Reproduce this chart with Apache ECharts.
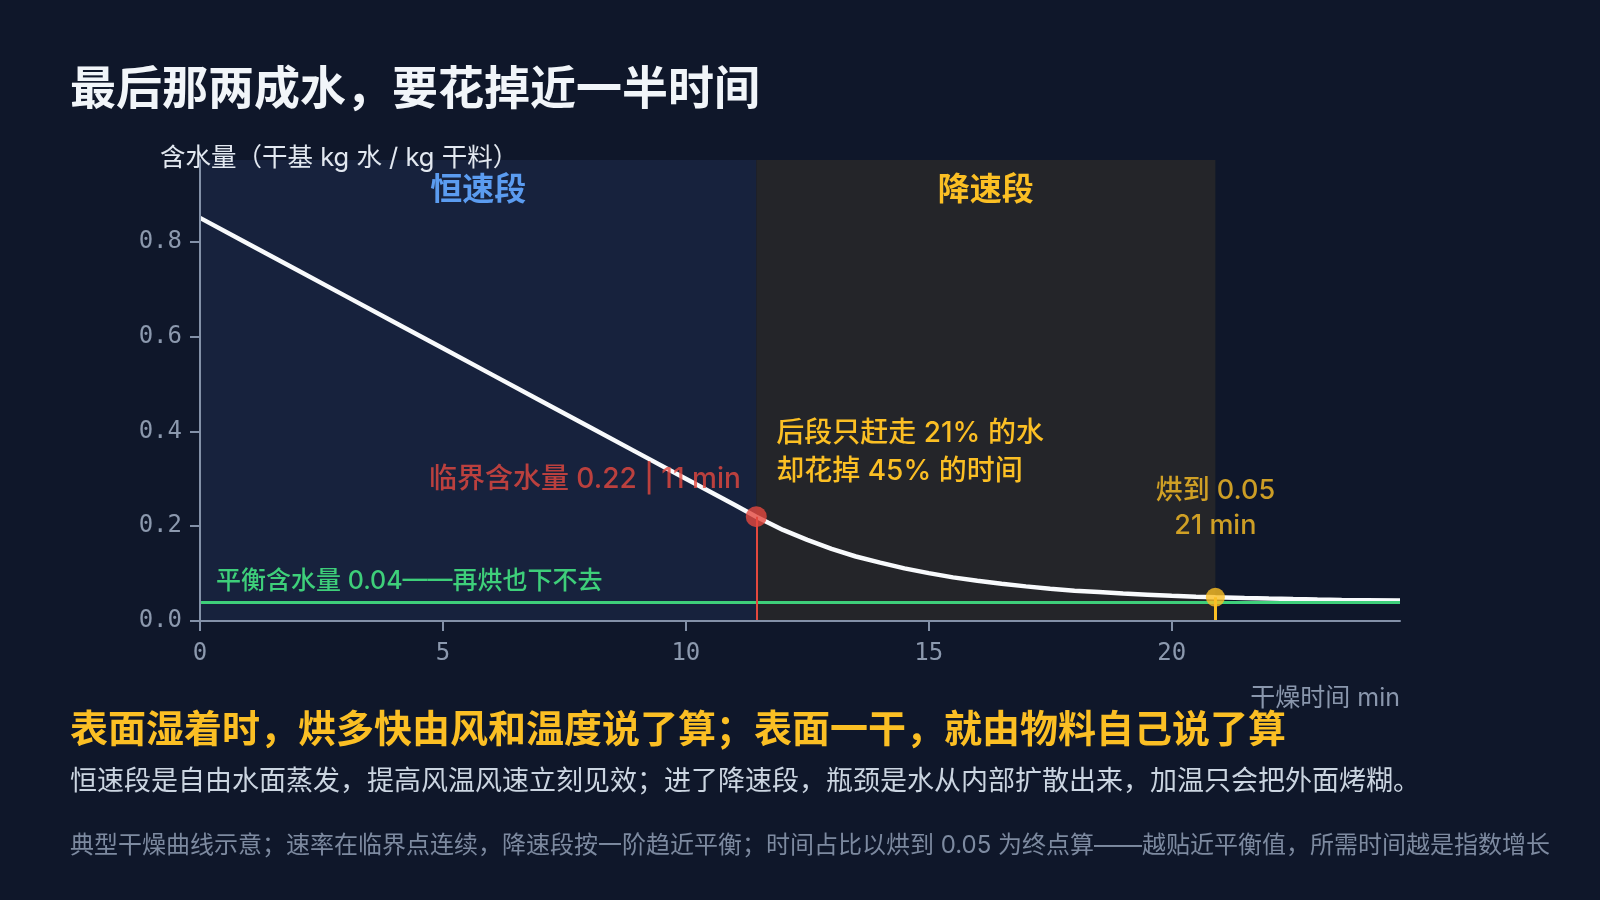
<!DOCTYPE html>
<html><head><meta charset="utf-8">
<script src="https://cdn.jsdelivr.net/npm/echarts@6/dist/echarts.min.js"></script>
<style>html,body{margin:0;padding:0;background:#0f172a;}#c{width:1600px;height:900px;}</style>
</head><body><div id="c"></div>
<script>
// ---- data ----
const TIME_MIN = [0, 1, 2, 3, 4, 5, 6, 7, 8, 9, 10, 11, 11.45, 11.7, 12, 12.5, 13, 13.5, 14, 14.5, 15, 15.5, 16, 16.5, 17, 17.5, 18, 18.5, 19, 19.5, 20, 20.5, 20.9, 21.5, 22, 22.5, 23, 23.5, 24, 24.7];
const MOISTURE = [0.85, 0.795, 0.74, 0.685, 0.63, 0.575, 0.52, 0.465, 0.41, 0.355, 0.30, 0.245, 0.22, 0.207, 0.192, 0.171, 0.152, 0.136, 0.123, 0.111, 0.101, 0.092, 0.085, 0.0785, 0.073, 0.068, 0.064, 0.061, 0.058, 0.0555, 0.053, 0.0513, 0.05, 0.0484, 0.0472, 0.0462, 0.0453, 0.0445, 0.0439, 0.0431];
const X_TICKS = [0, 5, 10, 15, 20];
const Y_TICKS = [0, 0.2, 0.4, 0.6, 0.8];
const PHASE_NAMES = ['恒速段', '降速段'];
const PHASE_EDGES = [0, 11.45, 20.9];
const CRITICAL = [11.45, 0.22];
const TARGET = [20.9, 0.05];
const EQUILIBRIUM = 0.04;
const NOTE_ANCHOR = [11.45, 0.355];

const TITLE = '最后那两成水，要花掉近一半时间';
const HEADLINE = '表面湿着时，烘多快由风和温度说了算；表面一干，就由物料自己说了算';
const BODY = '恒速段是自由水面蒸发，提高风温风速立刻见效；进了降速段，瓶颈是水从内部扩散出来，加温只会把外面烤糊。';
const FOOTNOTE = '典型干燥曲线示意；速率在临界点连续，降速段按一阶趋近平衡；时间占比以烘到 0.05 为终点算——越贴近平衡值，所需时间越是指数增长';
const Y_NAME = '含水量（干基 kg 水 / kg 干料）';
const X_NAME = '干燥时间 min';
const EQ_LABEL = '平衡含水量 0.04——再烘也下不去';
const CRIT_LABEL = '临界含水量 0.22 | 11 min';
const NOTE_LABEL = '后段只赶走 21% 的水\n却花掉 45% 的时间';
const TARGET_LABEL = '烘到 0.05\n21 min';

// ---- chart ----
const CJK = '"Inter", "Noto Sans CJK SC", "Noto Sans", sans-serif';
const MONO = '"DejaVu Sans Mono", monospace';
const AXIS_C = '#8391a8';
const RED = '#e5483e', YEL = '#fbbf24', GRN = '#3ecf7a', BLUE = '#5b9cf0';

function txt(x, y, text, font, fill) {
  return { type: 'text', x: x, y: y, silent: true,
    style: { text: text, font: font, fill: fill, textVerticalAlign: 'middle', verticalAlign: 'middle', textAlign: 'left', align: 'left' } };
}

const chart = echarts.init(document.getElementById('c'), null, { renderer: 'canvas' });
chart.setOption({
  backgroundColor: '#0f172a',
  animation: false,
  textStyle: { fontFamily: CJK },
  grid: { left: 200, right: 200, top: 160, bottom: 279, containLabel: false },
  graphic: [
    txt(70, 90, TITLE, 'bold 46px ' + CJK, '#f1f5f9'),
    txt(70, 731, HEADLINE, 'bold 38px ' + CJK, YEL),
    txt(70, 781.5, BODY, '27px ' + CJK, '#cbd5e1'),
    txt(70, 845.5, FOOTNOTE, '24px ' + CJK, '#7d8aa0')
  ],
  xAxis: {
    type: 'value', min: 0, max: TIME_MIN[TIME_MIN.length - 1], interval: 5, z: 10,
    name: X_NAME, nameLocation: 'end', nameGap: 0,
    nameTextStyle: { color: '#8a97ad', fontSize: 25, fontFamily: CJK, align: 'right', verticalAlign: 'top', padding: [65, 0, 0, 0] },
    axisLine: { show: true, lineStyle: { color: AXIS_C, width: 2 } },
    axisTick: { show: true, length: 10, lineStyle: { color: AXIS_C, width: 2 }, customValues: X_TICKS },
    axisLabel: { color: '#8c99ae', fontSize: 24, fontFamily: MONO, margin: 21, customValues: X_TICKS },
    splitLine: { show: false }
  },
  yAxis: {
    type: 'value', min: 0, max: 0.972, interval: 0.2, z: 10,
    name: Y_NAME, nameLocation: 'end', nameGap: 2,
    nameTextStyle: { color: '#e2e8f0', fontSize: 25.5, fontFamily: CJK, align: 'left', verticalAlign: 'middle', padding: [0, 0, 0, -40] },
    axisLine: { show: true, lineStyle: { color: AXIS_C, width: 2 } },
    axisTick: { show: true, length: 10, lineStyle: { color: AXIS_C, width: 2 }, customValues: Y_TICKS },
    axisLabel: { color: '#8c99ae', fontSize: 24, fontFamily: MONO, margin: 18, customValues: Y_TICKS, formatter: v => v.toFixed(1) },
    splitLine: { show: false }
  },
  series: [
    {
      type: 'line', name: '含水量', z: 3,
      data: TIME_MIN.map((t, i) => [t, MOISTURE[i]]),
      showSymbol: false, symbol: 'none',
      lineStyle: { color: '#f8fafc', width: 4.5 },
      markArea: {
        silent: true,
        label: { show: true, position: 'insideTop', distance: 14, fontSize: 32, fontWeight: 'bold', fontFamily: CJK },
        data: [
          [{ xAxis: PHASE_EDGES[0], name: PHASE_NAMES[0], itemStyle: { color: '#17223d' }, label: { color: BLUE } }, { xAxis: PHASE_EDGES[1] }],
          [{ xAxis: PHASE_EDGES[1], name: PHASE_NAMES[1], itemStyle: { color: '#242529' }, label: { color: YEL } }, { xAxis: PHASE_EDGES[2] }]
        ]
      },
      markLine: {
        silent: true, symbol: 'none',
        data: [{ yAxis: EQUILIBRIUM,
          lineStyle: { color: GRN, width: 3, type: 'solid' },
          label: { show: true, position: 'insideStartTop', formatter: EQ_LABEL, color: GRN, fontSize: 25, fontWeight: 500, fontFamily: CJK, distance: [16, 8] } }]
      },
      markPoint: {
        silent: true, symbol: 'circle', symbolSize: 0,
        data: [{ coord: NOTE_ANCHOR, itemStyle: { color: 'transparent' },
          label: { show: true, position: 'right', distance: 20, formatter: NOTE_LABEL, color: YEL, fontSize: 28, fontWeight: 500, lineHeight: 38, fontFamily: CJK, align: 'left' } }]
      }
    },
    {
      type: 'scatter', name: '临界点', z: 5,
      data: [CRITICAL], symbolSize: 21,
      itemStyle: { color: RED },
      label: { show: true, position: 'left', distance: 5, offset: [0, -37], formatter: CRIT_LABEL, color: RED, fontSize: 28, fontWeight: 500, fontFamily: CJK },
      markLine: {
        silent: true, symbol: 'none', label: { show: false },
        lineStyle: { color: RED, width: 2, type: 'solid' },
        data: [[{ coord: CRITICAL }, { coord: [CRITICAL[0], 0] }]]
      }
    },
    {
      type: 'scatter', name: '终点', z: 5,
      data: [TARGET], symbolSize: 19,
      itemStyle: { color: YEL },
      label: { show: true, position: 'top', distance: 44, formatter: TARGET_LABEL, color: YEL, fontSize: 27, fontWeight: 500, lineHeight: 35, align: 'center', fontFamily: CJK },
      markLine: {
        silent: true, symbol: 'none', label: { show: false },
        lineStyle: { color: YEL, width: 3, type: 'solid' },
        data: [[{ coord: TARGET }, { coord: [TARGET[0], 0] }]]
      }
    }
  ]
});
</script>
</body></html>
